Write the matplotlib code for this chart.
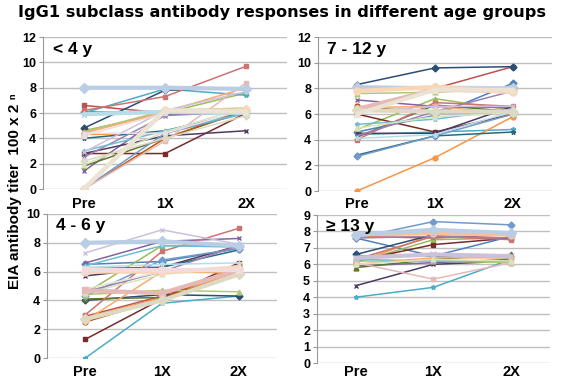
import matplotlib
matplotlib.use("Agg")
import matplotlib.pyplot as plt

plt.rcParams['font.family'] = ['Liberation Sans', 'DejaVu Sans']

categories = ["Pre", "1X", "2X"]

title = "IgG1 subclass antibody responses in different age groups"
ylabel = "EIA antibody titer  100 x 2 \u207f"

# values per subject: [Pre, 1X, 2X]
group_lt4 = [
    [6.1, 6.0, 6.2], [6.6, 6.0, 6.3], [4.6, 6.0, 7.6], [1.4, 5.9, 6.0],
    [6.0, 7.9, 7.4], [4.3, 4.4, 6.0], [4.8, 7.8, 8.0], [2.8, 2.8, 6.0],
    [1.8, 4.0, 6.2], [2.8, 4.2, 4.6], [4.0, 4.6, 6.1], [0.0, 4.0, 6.3],
    [0.0, 4.4, 6.0], [6.2, 7.3, 9.7], [4.5, 6.2, 6.4], [2.5, 5.8, 6.1],
    [3.0, 4.6, 6.0], [4.4, 6.1, 8.0], [8.0, 8.0, 7.9], [0.0, 3.8, 8.4],
    [1.9, 4.5, 6.5], [2.9, 6.2, 7.7], [5.9, 6.1, 6.0], [0.0, 6.2, 6.2],
    [2.2, 4.0, 5.8], [4.2, 6.0, 6.0], [0.0, 6.2, 6.1], [4.4, 4.4, 6.3],
]
group_7_12 = [
    [4.6, 5.9, 8.4], [6.2, 8.0, 9.7], [4.8, 7.2, 6.3], [7.1, 6.6, 6.5],
    [4.4, 4.6, 4.8], [0.0, 2.6, 5.8], [8.3, 9.6, 9.7], [6.0, 4.6, 6.0],
    [4.2, 6.7, 6.2], [4.5, 4.5, 6.6], [2.8, 4.3, 4.6], [6.6, 6.1, 6.1],
    [2.7, 4.3, 6.0], [4.0, 6.9, 6.6], [7.6, 7.7, 8.0], [4.3, 6.2, 7.8],
    [5.2, 5.6, 6.4], [6.5, 6.6, 6.0], [8.1, 8.0, 8.0], [6.4, 7.9, 7.8],
    [4.9, 5.8, 6.1], [6.2, 6.6, 6.6], [4.1, 4.4, 6.2], [7.8, 8.1, 7.7],
    [6.3, 6.2, 6.2], [8.0, 8.2, 8.1], [6.0, 7.9, 7.9],
]
group_4_6 = [
    [6.5, 6.7, 7.6], [2.9, 4.3, 6.2], [4.5, 7.8, 7.8], [6.6, 8.1, 8.3],
    [0.0, 3.8, 4.3], [2.8, 4.2, 6.0], [4.0, 4.4, 4.3], [1.3, 4.1, 6.6],
    [4.1, 4.2, 5.8], [5.7, 6.3, 7.8], [6.2, 6.3, 7.5], [2.5, 4.1, 6.4],
    [4.3, 6.8, 7.6], [3.0, 7.4, 9.0], [4.4, 4.7, 4.6], [4.6, 6.0, 7.8],
    [6.4, 7.8, 7.7], [2.6, 6.0, 5.9], [8.0, 8.1, 7.8], [4.7, 4.5, 6.1],
    [4.5, 5.8, 6.3], [7.3, 8.9, 7.9], [6.3, 6.5, 6.6], [6.0, 6.0, 6.2],
    [2.7, 4.0, 5.8], [6.1, 6.1, 6.1], [4.8, 6.0, 6.4],
]
group_ge13 = [
    [7.6, 6.5, 7.7], [7.7, 7.6, 7.8], [6.1, 7.5, 7.6], [5.9, 6.1, 6.3],
    [4.0, 4.6, 6.3], [6.1, 7.8, 7.8], [6.6, 7.8, 7.9], [6.2, 7.2, 7.6],
    [5.8, 6.3, 6.6], [4.7, 6.0, 6.2], [6.5, 6.5, 6.4], [7.8, 7.9, 7.8],
    [7.6, 8.6, 8.4], [6.3, 7.7, 7.5], [6.2, 6.2, 6.1], [7.6, 7.7, 7.6],
    [6.3, 6.2, 6.2], [6.0, 6.4, 6.4], [7.8, 8.1, 7.9], [6.1, 5.1, 6.1],
    [6.0, 6.3, 6.2], [6.4, 6.6, 6.5],
]

palette = ['#4F81BD', '#C0504D', '#9BBB59', '#8064A2', '#4BACC6', '#F79646',
           '#2C4D75', '#772C2A', '#5F7530', '#4D3B62', '#276A7C', '#B65708',
           '#729ACA', '#CD7371', '#AFC97A', '#9983B5', '#6FBDD1', '#F9AB6B',
           '#B9CDE5', '#E6B9B8', '#D7E4BD', '#CCC1DA', '#B7DEE8', '#FCD5B5',
           '#DDD9C3', '#F2DCDB', '#EBE3D3', '#E5E0EC']
markers = ['D', 's', '^', 'x', '*', 'o']

panels = [
    (group_lt4, "< 4 y", 12, 2, [0.0761, 0.5013, 0.432, 0.401], {18, 22, 23, 26}, 6.0),
    (group_7_12, "7 - 12 y", 12, 2, [0.5628, 0.496, 0.414, 0.406], {18, 19, 23, 24, 26}, 4.5),
    (group_4_6, "4 - 6 y", 10, 2, [0.0832, 0.0554, 0.407, 0.380], {18, 19, 23, 24, 25}, 5.0),
    (group_ge13, "\u2265 13 y", 9, 1, [0.561, 0.0422, 0.412, 0.3905], {11, 18, 21}, 1.5),
]
pale_override = {11: '#FAC090'}

fig = plt.figure(figsize=(5.65, 3.79), dpi=100)
fig.patch.set_facecolor('white')

for data, label, ymax, step, rect, thick, xpad in panels:
    ax = fig.add_axes(rect)
    x = list(range(len(categories)))
    for i, series in enumerate(data):
        c = palette[i % len(palette)]
        if i in thick and i in pale_override:
            c = pale_override[i]
        lw = 3.0 if i in thick else 1.1
        ax.plot(x, series, color=c, lw=lw, marker=markers[i % len(markers)],
                ms=3.5 if i not in thick else 5, mew=1.0,
                zorder=4 if i in thick else 3, solid_capstyle='round')
    ax.set_xlim(-0.5, 2.5)
    ax.set_ylim(0, ymax)
    ax.set_yticks(range(0, ymax + 1, step))
    ax.set_xticks(x)
    ax.set_xticklabels(categories, fontsize=10.5, fontweight='bold')
    ax.tick_params(axis='x', length=0, pad=xpad)
    ax.tick_params(axis='y', labelsize=9, length=3, color='#999999', pad=2)
    for t in ax.get_yticklabels():
        t.set_fontweight('bold')
    ax.yaxis.grid(True, color='#BFBFBF', lw=1.0, zorder=0)
    for s in ['top', 'right', 'bottom']:
        ax.spines[s].set_visible(False)
    ax.spines['left'].set_color('#999999')
    ax.set_axisbelow(True)
    ax.text(0.04, 0.97, label, transform=ax.transAxes, ha='left', va='top',
            fontsize=12.5, fontweight='bold', zorder=5)

fig.text(0.5, 0.966, title, ha='center', va='center', fontsize=11.6,
         fontweight='bold', family='DejaVu Sans')
fig.text(0.027, 0.497, ylabel, rotation=90, ha='center', va='center',
         fontsize=11, fontweight='bold')

fig.savefig("out.png", dpi=100)
